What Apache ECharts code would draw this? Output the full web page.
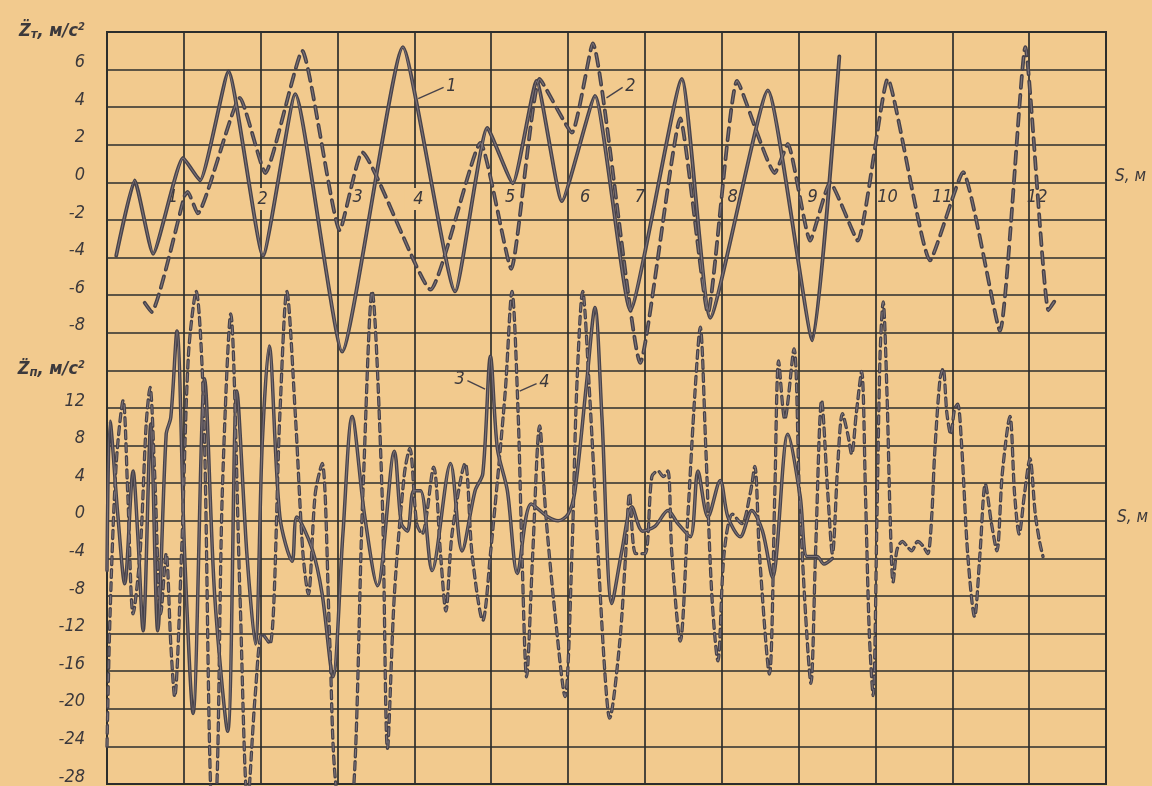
<!DOCTYPE html>
<html><head><meta charset="utf-8">
<script src="https://cdn.jsdelivr.net/npm/echarts@6/dist/echarts.min.js"></script>
<style>html,body{margin:0;padding:0;background:#f2ca8e}#c{width:1152px;height:786px}</style>
</head><body><div id="c"></div><script>
// ---- tick labels ----
const topTicks = [6, 4, 2, 0, -2, -4, -6, -8];
const bottomTicks = [12, 8, 4, 0, -4, -8, -12, -16, -20, -24, -28];
const sTicks = [1, 2, 3, 4, 5, 6, 7, 8, 9, 10, 11, 12];

// ---- curve 1 (solid, top, Z_T) ----
const line1S = [0.12,0.36,0.60,0.99,1.21,1.58,2.03,2.45,3.06,3.85,4.53,4.95,5.28,5.59,5.92,6.35,6.81,7.48,7.85,8.60,9.18,9.53];
const line1Z = [-3.9,0.1,-3.8,1.3,0.1,5.9,-3.9,4.7,-9.0,7.2,-5.8,2.9,-0.05,5.4,-1.0,4.6,-6.8,5.5,-7.2,4.9,-8.4,6.7];

// ---- curve 2 (dashed, top, Z_T) ----
const line2S = [0.49,0.58,1.01,1.05,1.18,1.73,2.06,2.54,3.03,3.32,4.21,4.86,5.26,5.63,6.05,6.32,6.94,7.46,7.82,8.20,8.69,8.86,9.15,9.41,9.77,10.16,10.71,11.14,11.62,11.95,12.25,12.35];
const line2Z = [-6.4,-6.9,-0.7,-0.5,-1.65,4.5,0.5,7.0,-2.55,1.6,-5.7,2.1,-4.6,5.5,2.65,7.4,-9.6,3.4,-6.95,5.4,0.5,2.05,-3.1,0.0,-3.1,5.5,-4.15,0.55,-7.9,7.2,-6.8,-6.2];

// ---- curve 3 (solid, bottom, Z_П) ----
const line3S = [0.00,0.04,0.14,0.23,0.34,0.40,0.47,0.57,0.66,0.77,0.83,0.91,1.01,1.12,1.27,1.40,1.57,1.69,1.82,1.93,2.02,2.11,2.25,2.41,2.47,2.67,2.80,2.94,3.07,3.19,3.35,3.52,3.74,3.83,3.91,3.99,4.08,4.23,4.47,4.62,4.79,4.89,4.99,5.08,5.21,5.34,5.52,5.74,5.87,6.00,6.09,6.24,6.35,6.44,6.57,6.70,6.83,6.97,7.13,7.30,7.43,7.59,7.69,7.82,7.98,8.08,8.24,8.39,8.53,8.66,8.86,9.02,9.11,9.24,9.33,9.44];
const line3Z = [-5.3,10.6,0.7,-6.7,5.3,-1.4,-11.7,10.3,-11.7,9.2,11.0,20.2,-3.5,-20.5,15.1,-7.8,-22.4,13.8,-3.5,-13.1,8.2,18.6,0.4,-4.3,0.4,-3.0,-7.8,-16.6,-1.4,11.1,0.7,-6.9,7.4,-0.3,-1.1,3.2,3.2,-5.3,6.1,-3.2,3.2,5.0,17.5,7.7,3.2,-5.6,1.8,0.4,0,0.7,3.2,14.6,22.7,11.1,-8.8,-3.2,1.5,-1.1,-0.6,1.1,-0.3,-1.7,5.3,0.4,4.3,0.4,-1.7,1.1,-1.1,-6.0,9.2,2.6,-3.8,-3.8,-4.6,-4.0];

// ---- curve 4 (dashed, bottom, Z_П) ----
const line4S = [0.00,0.04,0.12,0.21,0.27,0.34,0.43,0.51,0.56,0.62,0.70,0.77,0.83,0.88,0.97,1.06,1.16,1.26,1.35,1.41,1.50,1.61,1.73,1.83,1.93,2.02,2.12,2.25,2.34,2.45,2.55,2.62,2.71,2.80,2.90,2.99,3.16,3.33,3.45,3.58,3.65,3.74,3.87,3.94,4.03,4.10,4.25,4.34,4.41,4.49,4.66,4.75,4.89,4.99,5.18,5.27,5.35,5.40,5.46,5.54,5.63,5.71,5.83,5.96,6.05,6.11,6.19,6.28,6.39,6.48,6.54,6.67,6.75,6.80,6.88,7.00,7.09,7.17,7.24,7.30,7.35,7.46,7.56,7.65,7.72,7.79,7.87,7.95,8.03,8.14,8.26,8.37,8.43,8.49,8.62,8.69,8.74,8.82,8.94,9.01,9.09,9.16,9.22,9.30,9.38,9.44,9.51,9.57,9.64,9.69,9.75,9.82,9.87,9.92,9.97,10.02,10.06,10.10,10.15,10.19,10.23,10.28,10.35,10.41,10.47,10.55,10.62,10.68,10.73,10.77,10.84,10.88,10.93,10.98,11.03,11.07,11.12,11.20,11.29,11.36,11.43,11.51,11.58,11.65,11.75,11.81,11.87,11.94,12.01,12.08,12.14,12.18];
const line4Z = [-24.0,-9.9,6.1,12.8,2.9,-9.9,-3.5,10.3,14.2,5.0,-9.9,-3.5,-13.1,-18.7,-3.5,17.7,24.4,11.4,-29,-30,2.9,22.0,-7.8,-30,-18.4,-12.0,-13.1,11.4,24.4,11.4,-3.5,-7.8,2.9,6.1,-13.1,-29,-31,2.9,24.4,2.9,-24.2,-7.8,5.0,7.7,-0.3,-1.4,5.7,-3.5,-9.6,-1.4,6.1,-3.5,-10.6,-3.5,13.5,24.4,11.4,-3.5,-16.6,-3.5,10.1,0.7,-9.9,-18.7,-3.5,13.5,24.4,13.5,-3.5,-16.3,-21.0,-13.1,-3.5,2.9,-3.5,-3.5,4.7,5.3,4.7,5.3,-3.5,-12.8,0.7,13.5,20.6,8.2,-7.8,-14.9,-3.5,0.7,-0.3,2.9,5.8,-3.5,-16.3,2.9,17.0,10.8,18.3,2.9,-9.9,-17.3,-3.5,12.8,2.9,-3.5,6.1,11.4,9.2,7.1,11.4,15.9,2.9,-12.0,-18.6,0.7,17.7,23.3,13.5,0.7,-6.5,-3.1,-2.2,-2.7,-3.2,-2.2,-2.7,-3.5,0.2,7.1,15.1,16.2,11.4,9.2,11.9,12.4,8.2,-3.5,-10.2,-3.5,3.9,-0.3,-3.2,5.0,11.1,2.9,-1.4,2.9,6.6,0.7,-2.4,-3.8];

// ---- curve number callouts (leader start/end in data units) ----
const callout1 = [[4.05, 4.46], [4.38, 5.05]];
const callout2 = [[6.50, 4.50], [6.71, 5.05]];
const callout3 = [[4.92, 14.0], [4.69, 14.9]];
const callout4 = [[5.37, 13.8], [5.59, 14.6]];

const zip = (a, b) => a.map((v, i) => [v, b[i]]);

const INK = '#47424a';
const CORE = '#7c7378';
const PAPER = '#f2ca8e';
const GRIDC = '#2d2e2c';
const TXT = '#3c393c';
const FONT = '"Liberation Sans Narrow","DejaVu Sans Condensed","DejaVu Sans",sans-serif';

const baseText = { fontFamily: FONT, fontStyle: 'italic', color: TXT, fontSize: 18 };
const titleRich = {
  t: { fontFamily: FONT, fontStyle: 'italic', color: TXT, fontSize: 18, fontWeight: 'bold', padding: [12, 0, 0, 0] },
  s: { fontFamily: FONT, fontStyle: 'italic', color: TXT, fontSize: 13, fontWeight: 'bold', padding: [19, 0, 0, 0] },
  u: { fontFamily: FONT, fontStyle: 'italic', color: TXT, fontSize: 11, fontWeight: 'bold', padding: [12, 0, 8, 0] }
};

// horizontal nudge (px) of each S label relative to its grid line; labels sitting on a line blank it out
const sNudge = { 1: -11, 2: 2, 3: 20, 4: 4, 5: 19, 6: 17, 7: -5, 8: 11, 9: 14, 10: 12, 11: -10, 12: 8 };
const sOnLine = [2, 4];
const sRich = {};
sTicks.forEach(v => {
  const d = sNudge[v];
  const st = Object.assign({}, baseText, { padding: d >= 0 ? [0, 0, 0, 2 * d] : [0, -2 * d, 0, 0] });
  if (sOnLine.includes(v)) { st.backgroundColor = PAPER; st.padding = [2, 1, 2, 1 + 2 * d]; }
  sRich['k' + v] = st;
});

function calloutLine(pts, text) {
  return {
    silent: true,
    symbol: ['none', 'none'],
    lineStyle: { type: 'solid', width: 1.4, color: INK },
    label: { show: true, position: 'end', formatter: text, fontFamily: FONT, fontStyle: 'italic', fontSize: 18, color: TXT, distance: 3 },
    data: [[{ coord: pts[0] }, { coord: pts[1] }]]
  };
}

// each pen stroke: dark outer stroke + lighter core (printed "hollow" look)
function pen(s, z, yIdx, width, dash, smooth, callout, label) {
  const data = zip(s, z);
  const outer = { type: 'line', xAxisIndex: 0, yAxisIndex: yIdx, data, showSymbol: false, smooth, z: 3,
    lineStyle: { color: INK, width, type: dash || 'solid', cap: 'round', join: 'round' },
    markLine: calloutLine(callout, label) };
  const inner = { type: 'line', xAxisIndex: 0, yAxisIndex: yIdx, data, showSymbol: false, smooth, z: 4, silent: true,
    lineStyle: { color: CORE, width: 1.1, type: dash || 'solid', cap: 'butt', join: 'round' } };
  return [outer, inner];
}

const chart = echarts.init(document.getElementById('c'));
chart.setOption({
  backgroundColor: PAPER,
  animation: false,
  title: [
    { text: 'S, м', left: 1115, top: 168, padding: 0, textStyle: { fontFamily: FONT, fontStyle: 'italic', fontWeight: 'normal', fontSize: 17, color: TXT } },
    { text: 'S, м', left: 1117, top: 509, padding: 0, textStyle: { fontFamily: FONT, fontStyle: 'italic', fontWeight: 'normal', fontSize: 17, color: TXT } }
  ],
  grid: { left: 107, right: 46, top: 32, bottom: 1, show: true, borderColor: GRIDC, borderWidth: 2, backgroundColor: 'transparent' },
  xAxis: [
    { type: 'value', min: 0, max: 13, interval: 1,
      axisLine: { show: false }, axisTick: { show: false }, axisLabel: { show: false },
      splitLine: { show: true, lineStyle: { color: GRIDC, width: 1.7 } } },
    { type: 'value', min: 0, max: 13, interval: 1, position: 'top', offset: -150,
      axisLine: { show: false }, axisTick: { show: false }, splitLine: { show: false },
      axisLabel: { inside: true, margin: 6, formatter: v => sTicks.includes(v) ? '{k' + v + '|' + v + '}' : '', rich: sRich } }
  ],
  yAxis: [
    { type: 'value', min: -32, max: 8, interval: 2, position: 'left',
      axisLine: { show: false }, axisTick: { show: false },
      splitLine: { show: true, lineStyle: { color: GRIDC, width: 1.7 } },
      axisLabel: { margin: 22, padding: [0, 0, 14, 0], fontFamily: FONT, fontStyle: 'italic', fontSize: 18, color: TXT, rich: titleRich,
        formatter: v => v === 8 ? '{t|Z\u0308}{s|т}{t|, м/с}{u|2}' : (topTicks.includes(v) ? String(v) : '') } },
    { type: 'value', min: -28, max: 52, interval: 4, position: 'left',
      axisLine: { show: false }, axisTick: { show: false }, splitLine: { show: false },
      axisLabel: { margin: 22, padding: [0, 0, 14, 0], fontFamily: FONT, fontStyle: 'italic', fontSize: 18, color: TXT, rich: titleRich,
        formatter: v => v === 16 ? '{t|Z\u0308}{s|п}{t|, м/с}{u|2}' : (bottomTicks.includes(v) ? String(v) : '') } }
  ],
  series: [].concat(
    pen(line1S, line1Z, 0, 3.8, null, 0.15, callout1, '1'),
    pen(line2S, line2Z, 0, 3.8, [12, 7], 0.15, callout2, '2'),
    pen(line3S, line3Z, 1, 3.5, null, 0.3, callout3, '3'),
    pen(line4S, line4Z, 1, 3.3, [8, 5], 0.3, callout4, '4')
  )
});
</script></body></html>
